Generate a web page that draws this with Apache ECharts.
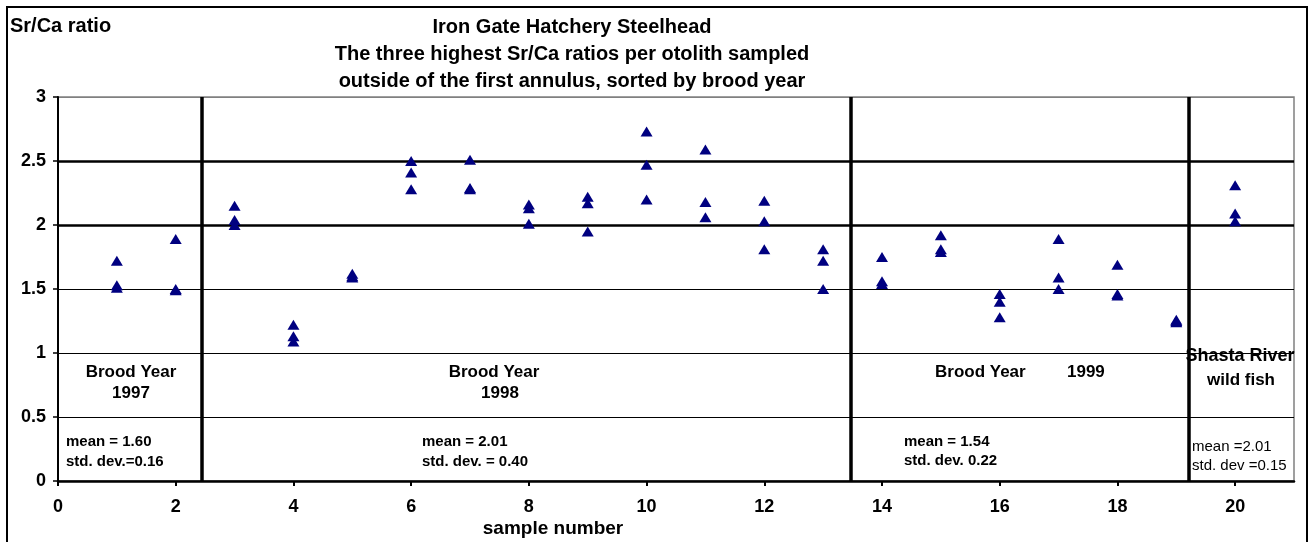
<!DOCTYPE html>
<html>
<head>
<meta charset="utf-8">
<script src="https://cdn.jsdelivr.net/npm/echarts@6/dist/echarts.min.js"></script>
<style>
html,body{margin:0;padding:0;background:#fff;}
#chart{width:1313px;height:542px;}
</style>
</head>
<body>
<div id="chart"></div>
<script>
// ---- data ----
const sampleNumbers = [1,2,3,4,5,6,7,8,9,10,11,12,13,14,15,16,17,18,19,20];
const srHigh   = [1.72,1.89,2.15,1.22,1.62,2.50,2.51,2.16,2.22,2.73,2.59,2.19,1.81,1.75,1.92,1.46,1.89,1.69,1.26,2.31];
const srMiddle = [1.53,1.50,2.04,1.13,1.60,2.41,2.29,2.13,2.17,2.47,2.18,2.03,1.72,1.56,1.81,1.40,1.59,1.46,1.25,2.09];
const srLow    = [1.51,1.49,2.00,1.09,1.59,2.28,2.28,2.01,1.95,2.20,2.06,1.81,1.50,1.54,1.79,1.28,1.50,1.45,1.24,2.03];
const xTicks = [0,2,4,6,8,10,12,14,16,18,20];
const groupDividers = [2.45, 13.47, 19.22];
const thickGridValues = [2, 2.5];

const FONT = '"Liberation Sans", Arial, Helvetica, sans-serif';

const points = [];
sampleNumbers.forEach((s, i) => {
  points.push([s, srHigh[i]]);
  points.push([s, srMiddle[i]]);
  points.push([s, srLow[i]]);
});

function txt(x, y, text, size, opts) {
  opts = opts || {};
  return {
    type: 'text', x: x, y: y, z: 1, silent: true,
    style: {
      text: text, fill: '#000',
      font: (opts.weight || 'bold') + ' ' + size + 'px ' + FONT,
      textAlign: opts.align || 'left', textVerticalAlign: 'middle'
    }
  };
}

const chart = echarts.init(document.getElementById('chart'), null, {renderer: 'canvas'});
chart.setOption({
  backgroundColor: '#ffffff',
  animation: false,
  grid: {left: 58, right: 19, top: 97, bottom: 61, show: true, borderColor: '#808080', borderWidth: 1.5},
  xAxis: {
    type: 'value', min: 0, max: 21, interval: 2,
    axisLine: {onZero: false, lineStyle: {color: '#000', width: 2.5}},
    axisTick: {show: true, customValues: xTicks, length: 5, lineStyle: {color: '#000', width: 2}},
    axisLabel: {customValues: xTicks, color: '#000', fontFamily: FONT, fontWeight: 'bold', fontSize: 18, margin: 17},
    splitLine: {show: false}
  },
  yAxis: {
    type: 'value', min: 0, max: 3, interval: 0.5,
    axisLine: {show: true, lineStyle: {color: '#000', width: 2}},
    axisTick: {show: true, length: 5, lineStyle: {color: '#000', width: 1.5}},
    axisLabel: {color: '#000', fontFamily: FONT, fontWeight: 'bold', fontSize: 18, margin: 12},
    splitLine: {show: true, lineStyle: {color: ['#000','#000','#000','#000','#000','#000','#808080'], width: 1}}
  },
  series: [{
    type: 'scatter',
    data: points,
    symbol: 'triangle',
    symbolSize: [12, 10],
    itemStyle: {color: '#000080', opacity: 1},
    z: 5,
    markLine: {
      silent: true, symbol: 'none', label: {show: false}, animation: false,
      data: groupDividers.map(v => ({xAxis: v, lineStyle: {color: '#000', width: 3.5, type: 'solid'}}))
        .concat(thickGridValues.map(v => ({yAxis: v, lineStyle: {color: '#000', width: 2.5, type: 'solid'}})))
    }
  }],
  graphic: [
    {type: 'rect', silent: true, z: 0, shape: {x: 7, y: 7, width: 1300, height: 545}, style: {fill: 'none', stroke: '#000', lineWidth: 2}},
    txt(10, 26, 'Sr/Ca ratio', 20),
    txt(572, 27, 'Iron Gate Hatchery Steelhead', 20, {align: 'center'}),
    txt(572, 54, 'The three highest Sr/Ca ratios per otolith sampled', 20, {align: 'center'}),
    txt(572, 81, 'outside of the first annulus, sorted by brood year', 20, {align: 'center'}),
    txt(131, 372, 'Brood Year', 17, {align: 'center'}),
    txt(131, 393, '1997', 17, {align: 'center'}),
    txt(66, 442, 'mean = 1.60', 15),
    txt(66, 462, 'std. dev.=0.16', 15),
    txt(494, 372, 'Brood Year', 17, {align: 'center'}),
    txt(500, 393, '1998', 17, {align: 'center'}),
    txt(422, 442, 'mean = 2.01', 15),
    txt(422, 462, 'std. dev. = 0.40', 15),
    txt(935, 372, 'Brood Year', 17),
    txt(1067, 372, '1999', 17),
    txt(904, 442, 'mean = 1.54', 15),
    txt(904, 461, 'std. dev. 0.22', 15),
    txt(1240, 356, 'Shasta River', 18, {align: 'center'}),
    txt(1241, 380, 'wild fish', 17, {align: 'center'}),
    txt(1192, 447, 'mean =2.01', 15, {weight: 'normal'}),
    txt(1192, 466, 'std. dev =0.15', 15, {weight: 'normal'}),
    txt(553, 529, 'sample number', 19, {align: 'center'})
  ]
});
</script>
</body>
</html>
